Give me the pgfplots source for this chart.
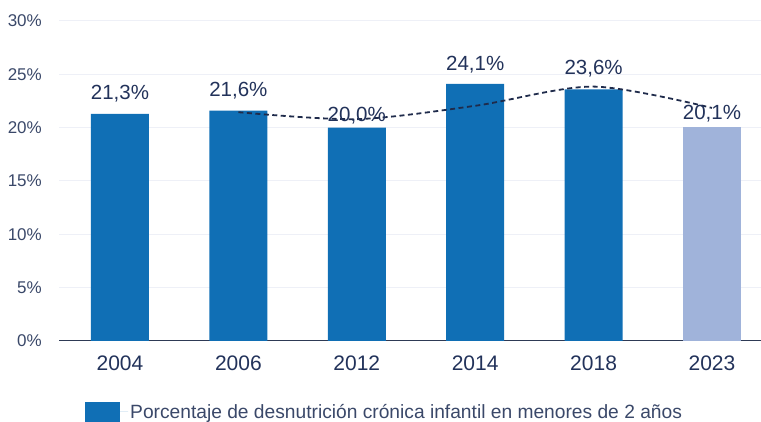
\documentclass[border=0pt]{standalone}
\usepackage{fontspec}
\setmainfont{Liberation Sans}
\usepackage{pgfplots}
\pgfplotsset{compat=1.18}
\usepackage{pgfplotstable}
\definecolor{barblue}{HTML}{106FB5}
\definecolor{barlight}{HTML}{A0B3DA}
\definecolor{navy}{HTML}{22325A}
\definecolor{ticknavy}{HTML}{3A4869}
\definecolor{gridc}{HTML}{EEF0F7}
\definecolor{trend}{HTML}{1F2B4B}
\definecolor{axisc}{HTML}{2E3A55}

\pgfplotstableread{
x y ly
0 21.3 22.6
1 21.6 22.9
2 20.0 20.56
3 24.1 25.4
4 23.6 24.94
5 20.1 20.72
}\labels

\pgfplotstableread{
x y
0 21.3
1 21.6
2 20.0
3 24.1
4 23.6
}\bluebars

\pgfplotstableread{
x y
5 20.1
}\lightbars

\pgfplotstableread{
x y
1 21.45
2 20.8
3 22.05
4 23.85
5 21.85
}\trendline

\begin{document}
\begin{tikzpicture}[x=1pt,y=1pt]
\begin{axis}[
  at={(59pt,81pt)}, anchor=south west,
  scale only axis, width=702pt, height=320pt,
  xmin=-0.515, xmax=5.414, ymin=0, ymax=30,
  clip=false,
  axis x line*=bottom, axis y line*=left,
  x axis line style={draw=axisc, line width=1pt},
  y axis line style={draw=none},
  tick style={draw=none},
  ytick={0,5,...,30},
  yticklabel={\pgfmathprintnumber{\tick}\%},
  yticklabel style={font=\fontsize{17}{20}\selectfont, text=ticknavy, anchor=east, inner sep=0pt, xshift=-17pt},
  xtick={0,1,2,3,4,5},
  xticklabels={2004,2006,2012,2014,2018,2023},
  xticklabel style={font=\fontsize{21}{24}\selectfont, text=navy, anchor=base, inner sep=0pt, yshift=-29.7pt},
  /pgf/number format/assume math mode=true,
  ymajorgrids, grid style={draw=gridc, line width=1pt},
  legend image code/.code={\fill[#1] (0pt,-10pt) rectangle (35pt,10pt); \path (0pt,0pt) -- (43pt,0pt);},
  legend style={at={(0.03704,-0.2209)}, anchor=west, draw=none, fill=none, inner sep=0pt,
    font=\fontsize{19.2}{22}\selectfont, text=ticknavy,
    /tikz/every even column/.style={column sep=0pt}},
  legend cell align=left,
]
\addplot[ybar, bar width=58pt, bar shift=0pt, fill=barblue, draw=none] table[x=x,y=y] {\bluebars};
\addlegendentry{Porcentaje de desnutrición crónica infantil en menores de 2 años}
\addplot[ybar, bar width=58pt, bar shift=0pt, fill=barlight, draw=none, forget plot] table[x=x,y=y] {\lightbars};
\addplot[trend, line width=1.8pt, dash pattern=on 5pt off 3.5pt, smooth, mark=none, forget plot] table[x=x,y=y] {\trendline};
\addplot[draw=none, mark=none, forget plot, point meta=explicit,
  nodes near coords={\pgfmathprintnumber[use comma,fixed,fixed zerofill,precision=1]{\pgfplotspointmeta}\%},
  every node near coord/.append style={anchor=base, inner sep=0pt, font=\fontsize{20.5}{24}\selectfont, text=navy}]
  table[x=x, y=ly, meta=y] {\labels};
\end{axis}
\pgfresetboundingbox
\path (0,0) rectangle (761pt,422pt);
\end{tikzpicture}
\end{document}
